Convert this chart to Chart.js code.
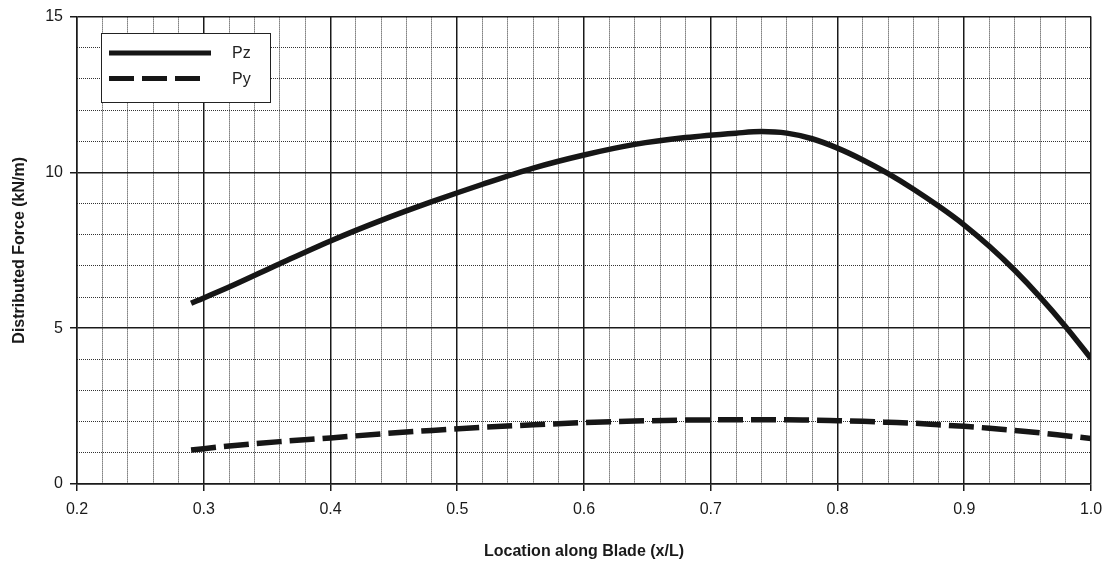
<!DOCTYPE html>
<html>
<head>
<meta charset="utf-8">
<script src="https://cdn.jsdelivr.net/npm/chart.js@4/dist/chart.umd.min.js"></script>
<style>
  html, body { margin: 0; padding: 0; background: #fff; }
  #wrap { width: 1107px; height: 561px; }
</style>
</head>
<body>
<div id="wrap"><canvas id="forceChart" width="1107" height="561"></canvas></div>
<script>
// 翼に沿った位置 (x/L)
const locations = [0.29, 0.32, 0.36, 0.40, 0.44, 0.48, 0.52, 0.56, 0.60, 0.64, 0.68, 0.72, 0.74,
                   0.76, 0.78, 0.80, 0.82, 0.84, 0.86, 0.88, 0.90, 0.92, 0.94, 0.96, 0.98, 1.00];
// 分布荷重 (kN/m)
const pzValues = [5.8, 6.32, 7.07, 7.8, 8.46, 9.06, 9.62, 10.14, 10.56, 10.9, 11.12, 11.26, 11.31,
                  11.26, 11.08, 10.78, 10.4, 9.96, 9.46, 8.91, 8.31, 7.62, 6.85, 5.99, 5.05, 4.03];
const pyValues = [1.09, 1.22, 1.36, 1.48, 1.61, 1.72, 1.82, 1.9, 1.97, 2.02, 2.05, 2.06, 2.06,
                  2.06, 2.05, 2.03, 2.01, 1.98, 1.95, 1.9, 1.85, 1.79, 1.72, 1.64, 1.55, 1.46];
const seriesNames = ['Pz', 'Py'];
const xTicks = [0.2, 0.3, 0.4, 0.5, 0.6, 0.7, 0.8, 0.9, 1.0];
const yTicks = [0, 5, 10, 15];

const FONT = '"Liberation Sans", Arial, sans-serif';
const toPoints = vals => vals.map((v, i) => ({ x: locations[i], y: v }));
const isMajorX = v => Math.abs(v * 10 - Math.round(v * 10)) < 1e-6;
const isMajorY = v => Math.abs(v % 5) < 1e-6;

// 凡例（枠付き、グラフ内左上）
const boxLegend = {
    id: 'boxLegend',
    afterDatasetsDraw(chart) {
        const c = chart.ctx;
        c.save();
        c.fillStyle = '#fff';
        c.fillRect(101, 33, 169, 69);
        c.strokeStyle = '#222';
        c.lineWidth = 1;
        c.strokeRect(101.5, 33.5, 169, 69);
        chart.data.datasets.forEach((ds, i) => {
            const y = 53 + i * 25.5;
            c.beginPath();
            c.lineWidth = 5;
            c.strokeStyle = ds.borderColor;
            c.setLineDash(ds.borderDash || []);
            c.moveTo(109, y);
            c.lineTo(i === 0 ? 211 : 200, y);
            c.stroke();
            c.setLineDash([]);
            c.fillStyle = '#222';
            c.font = '16px ' + FONT;
            c.textBaseline = 'middle';
            c.fillText(ds.label, 232, y + 1);
        });
        c.restore();
    }
};

const ctx = document.getElementById('forceChart').getContext('2d');
const forceChart = new Chart(ctx, {
    type: 'line',
    data: {
        datasets: [{
            label: seriesNames[0],
            data: toPoints(pzValues),
            borderColor: '#161616',
            borderWidth: 5.5,
            pointRadius: 0,
            cubicInterpolationMode: 'monotone',
            xAxisID: 'x',
            yAxisID: 'y'
        }, {
            label: seriesNames[1],
            data: toPoints(pyValues),
            borderColor: '#161616',
            borderWidth: 5.5,
            borderDash: [25, 8],
            pointRadius: 0,
            cubicInterpolationMode: 'monotone',
            xAxisID: 'x',
            yAxisID: 'y'
        }]
    },
    options: {
        responsive: false,
        animation: false,
        layout: { padding: { left: 0, right: 16, top: 16, bottom: 0 } },
        plugins: {
            legend: { display: false },
            title: { display: false },
            tooltip: { enabled: false }
        },
        scales: {
            // 補助目盛（点線）
            x2: {
                type: 'linear',
                position: 'bottom',
                min: 0.2,
                max: 1.0,
                afterFit: s => { s.height = 0; s.paddingLeft = 0; s.paddingRight = 0; },
                ticks: { display: false, stepSize: 0.02 },
                grid: {
                    drawTicks: false,
                    lineWidth: 1,
                    color: c => isMajorX(c.tick.value) ? 'rgba(0,0,0,0)' : '#333'
                },
                border: { display: false, dash: [1, 1] }
            },
            y2: {
                type: 'linear',
                position: 'left',
                min: 0,
                max: 15,
                afterFit: s => { s.width = 0; },
                ticks: { display: false, stepSize: 1 },
                grid: {
                    drawTicks: false,
                    lineWidth: 1,
                    color: c => isMajorY(c.tick.value) ? 'rgba(0,0,0,0)' : '#333'
                },
                border: { display: false, dash: [1, 1] }
            },
            x: {
                type: 'linear',
                position: 'bottom',
                min: xTicks[0],
                max: xTicks[xTicks.length - 1],
                afterFit: s => { s.height = 77; s.paddingLeft = 0; s.paddingRight = 0; },
                afterBuildTicks: s => { s.ticks = xTicks.map(v => ({ value: v })); },
                ticks: {
                    color: '#1a1a1a',
                    padding: 9,
                    maxRotation: 0,
                    font: { family: FONT, size: 16 },
                    callback: v => Number(v).toFixed(1)
                },
                grid: { color: '#1a1a1a', lineWidth: 1.5, tickLength: 7 },
                border: { color: '#1a1a1a', width: 1.5 },
                title: {
                    display: true,
                    text: 'Location along Blade (x/L)',
                    color: '#1a1a1a',
                    padding: { top: 2, bottom: 0 },
                    font: { family: FONT, size: 16, weight: 'bold' }
                }
            },
            y: {
                type: 'linear',
                position: 'left',
                min: yTicks[0],
                max: yTicks[yTicks.length - 1],
                afterFit: s => { s.width = 77; },
                afterBuildTicks: s => { s.ticks = yTicks.map(v => ({ value: v })); },
                ticks: {
                    color: '#1a1a1a',
                    padding: 7,
                    font: { family: FONT, size: 16 }
                },
                grid: { color: '#1a1a1a', lineWidth: 1.5, tickLength: 7 },
                border: { color: '#1a1a1a', width: 1.5 },
                title: {
                    display: true,
                    text: 'Distributed Force (kN/m)',
                    color: '#1a1a1a',
                    padding: { top: 10, bottom: 0 },
                    font: { family: FONT, size: 16, weight: 'bold' }
                }
            }
        }
    },
    plugins: [boxLegend]
});
</script>
</body>
</html>
